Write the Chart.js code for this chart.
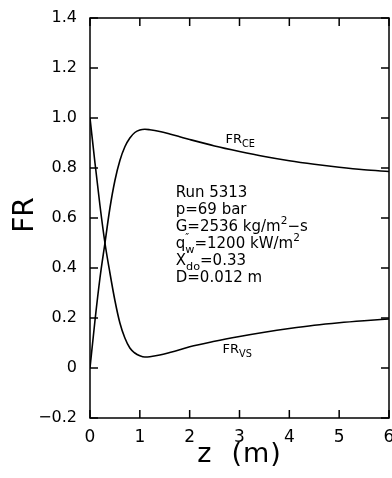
<!DOCTYPE html>
<html>
<head>
<meta charset="utf-8">
<script src="https://cdn.jsdelivr.net/npm/chart.js@4/dist/chart.umd.min.js"></script>
<style>
  html, body { margin: 0; padding: 0; background: #fff; }
</style>
</head>
<body>
<canvas id="myChart" width="392" height="478"></canvas>
<script>
// axial position z (m)
const zValues = [0, 0.1, 0.2, 0.3, 0.4, 0.5, 0.6, 0.7, 0.8, 0.9, 1.0, 1.1, 1.2, 1.4, 1.6, 1.8, 2.0, 2.5, 3.0, 3.5, 4.0, 4.5, 5.0, 5.5, 6.0];

// FR_CE curve (rises to a peak near z = 1.1)
const frCE = [0, 0.19, 0.36, 0.5, 0.64, 0.75, 0.83, 0.885, 0.92, 0.942, 0.952, 0.955, 0.953, 0.946, 0.936, 0.925, 0.914, 0.888, 0.866, 0.846, 0.829, 0.815, 0.803, 0.793, 0.786];

// FR_VS curve (drops to a minimum near z = 1.1)
const frVS = [1.0, 0.82, 0.65, 0.5, 0.38, 0.27, 0.18, 0.12, 0.08, 0.06, 0.049, 0.044, 0.045, 0.052, 0.062, 0.073, 0.085, 0.107, 0.126, 0.143, 0.158, 0.171, 0.181, 0.189, 0.196];

// tick labels
const xTickLabels = ['0', '1', '2', '3', '4', '5', '6'];
const yTickLabels = ['\u22120.2', '0', '0.2', '0.4', '0.6', '0.8', '1.0', '1.2', '1.4'];

// run conditions written inside the plot
const runInfo = [
  [{t: 'Run 5313'}],
  [{t: 'p=69 bar'}],
  [{t: 'G=2536 kg/m'}, {t: '2', sup: true}, {t: '\u2212s'}],
  [{t: 'q'}, {t: '\u2033', sup: true, keep: true}, {t: 'w', sub: true}, {t: '=1200 kW/m'}, {t: '2', sup: true}],
  [{t: 'X'}, {t: 'do', sub: true}, {t: '=0.33'}],
  [{t: 'D=0.012 m'}]
];

const FONT = 'DejaVu Sans';

function points(ys) {
  return zValues.map((z, i) => ({x: z, y: ys[i]}));
}

// draws a line of text made of normal / super / subscript pieces
function drawRuns(ctx, x, y, runs, size) {
  let cx = x;
  runs.forEach(r => {
    let s = size, dy = 0;
    if (r.sup) { s = size * 0.7; dy = -size * 0.45; }
    if (r.sub) { s = size * 0.75; dy = size * 0.3; }
    ctx.font = s + 'px "' + FONT + '"';
    ctx.fillText(r.t, cx, y + dy);
    if (!r.keep) cx += ctx.measureText(r.t).width;
  });
}

const framePlugin = {
  id: 'frame',
  afterDraw(chart) {
    const ctx = chart.ctx;
    const a = chart.chartArea;
    const xs = chart.scales.x;
    const ys = chart.scales.y;
    ctx.save();
    ctx.strokeStyle = '#000';
    ctx.fillStyle = '#000';
    ctx.lineWidth = 1.5;
    ctx.strokeRect(a.left, a.top, a.right - a.left, a.bottom - a.top);

    // inward ticks on all four sides
    const tl = 8;
    ctx.beginPath();
    xs.ticks.forEach(t => {
      const px = xs.getPixelForValue(t.value);
      ctx.moveTo(px, a.bottom); ctx.lineTo(px, a.bottom - tl);
      ctx.moveTo(px, a.top); ctx.lineTo(px, a.top + tl);
    });
    ys.ticks.forEach(t => {
      const py = ys.getPixelForValue(t.value);
      ctx.moveTo(a.left, py); ctx.lineTo(a.left + tl, py);
      ctx.moveTo(a.right, py); ctx.lineTo(a.right - tl, py);
    });
    ctx.stroke();

    // axis titles
    ctx.textAlign = 'center';
    ctx.textBaseline = 'alphabetic';
    ctx.font = '27px "' + FONT + '"';
    ctx.letterSpacing = '1px';
    ctx.fillText('z  (m)', (a.left + a.right) / 2, 462);
    ctx.letterSpacing = '0px';
    ctx.save();
    ctx.translate(33, 215);
    ctx.rotate(-Math.PI / 2);
    ctx.font = '28px "' + FONT + '"';
    ctx.fillText('FR', 0, 0);
    ctx.restore();

    // curve labels
    ctx.textAlign = 'left';
    drawRuns(ctx, xs.getPixelForValue(2.72), ys.getPixelForValue(0.9), [{t: 'FR'}, {t: 'CE', sub: true}], 13);
    drawRuns(ctx, xs.getPixelForValue(2.66), ys.getPixelForValue(0.06), [{t: 'FR'}, {t: 'VS', sub: true}], 13);

    // run conditions
    const x0 = xs.getPixelForValue(1.72);
    const y0 = ys.getPixelForValue(0.684);
    runInfo.forEach((line, i) => drawRuns(ctx, x0, y0 + i * 17, line, 15));
    ctx.restore();
  }
};

const myChart = document.getElementById('myChart');

new Chart(myChart, {
  type: 'line',
  data: {
    datasets: [
      {
        label: 'FR_CE',
        data: points(frCE),
        borderColor: '#000',
        borderWidth: 1.6,
        pointRadius: 0,
        cubicInterpolationMode: 'monotone',
        fill: false
      },
      {
        label: 'FR_VS',
        data: points(frVS),
        borderColor: '#000',
        borderWidth: 1.6,
        pointRadius: 0,
        cubicInterpolationMode: 'monotone',
        fill: false
      }
    ]
  },
  options: {
    responsive: false,
    devicePixelRatio: 1,
    animation: false,
    layout: {padding: {top: 18, right: 3, left: 0, bottom: 0}},
    plugins: {legend: {display: false}, tooltip: {enabled: false}},
    scales: {
      x: {
        type: 'linear',
        min: 0,
        max: 6,
        grid: {display: false},
        border: {display: false},
        ticks: {
          stepSize: 1,
          padding: 1,
          color: '#000',
          font: {family: FONT, size: 17},
          maxRotation: 0,
          callback: (v, i) => xTickLabels[i]
        },
        afterFit(s) { s.height = 60; s.paddingLeft = 0; s.paddingRight = 0; }
      },
      y: {
        type: 'linear',
        min: -0.2,
        max: 1.4,
        grid: {display: false},
        border: {display: false},
        ticks: {
          stepSize: 0.2,
          padding: 5,
          color: '#000',
          font: {family: FONT, size: 16},
          callback: (v, i) => yTickLabels[i]
        },
        afterFit(s) { s.width = 90; s.paddingTop = 0; s.paddingBottom = 0; }
      }
    }
  },
  plugins: [framePlugin]
});
</script>
</body>
</html>
